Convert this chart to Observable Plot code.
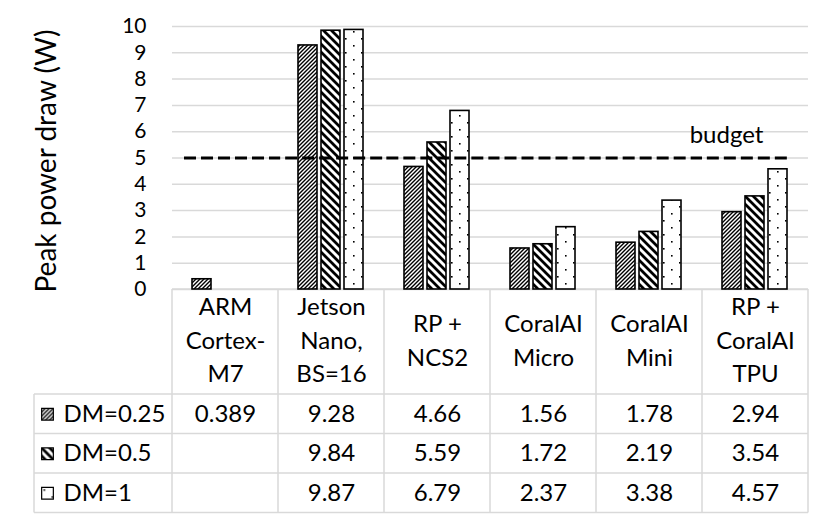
<!DOCTYPE html>
<html><head><meta charset="utf-8">
<script src="https://cdn.jsdelivr.net/npm/d3@7"></script>
<script src="https://cdn.jsdelivr.net/npm/@observablehq/plot@0.6"></script>
<style>body{margin:0;background:#fff}</style>
</head><body><div id="chart"></div>
<script>
const categories = ["ARM\nCortex-\nM7", "Jetson\nNano,\nBS=16", "RP +\nNCS2", "CoralAI\nMicro", "CoralAI\nMini", "RP +\nCoralAI\nTPU"];
const seriesNames = ["DM=0.25", "DM=0.5", "DM=1"];
const dm025 = [0.389, 9.28, 4.66, 1.56, 1.78, 2.94];
const dm05 = [null, 9.84, 5.59, 1.72, 2.19, 3.54];
const dm1 = [null, 9.87, 6.79, 2.37, 3.38, 4.57];
const yTicks = [0, 1, 2, 3, 4, 5, 6, 7, 8, 9, 10];
const budget = 5;
const budgetLabel = "budget";
const yLabel = "Peak power draw (W)";

const seriesValues = [dm025, dm05, dm1];
const patternIds = ["pat-dm025", "pat-dm05", "pat-dm1"];
const rows = categories.flatMap((c, i) => seriesNames.map((s, j) => ({category: c, series: s, value: seriesValues[j][i]})));
const present = rows.filter(d => d.value != null);

// layout (pixels)
const W = 830, H = 523, mL = 169, mR = 20, mT = 26, mB = 234;
const headerH = 105, rowH = 39.5, labelColW = 138;
const rowDy = seriesNames.map((s, j) => headerH + rowH * j + rowH / 2);
const facetW = (W - mL - mR) / categories.length;
const dashPeriod = 17, budgetStart = 12, budgetEndInset = 20;

const budgetRules = categories.map((c, k) => Plot.ruleY([budget], {
  fx: () => c, stroke: "black", strokeWidth: 3, strokeDasharray: "12,5",
  strokeDashoffset: k === 0 ? 0 : ((k * facetW - budgetStart) % dashPeriod),
  insetLeft: k === 0 ? budgetStart : 0,
  insetRight: k === categories.length - 1 ? budgetEndInset : 0
}));

const marks = [
  Plot.gridY(yTicks, {stroke: "#d9d9d9", strokeOpacity: 1, strokeWidth: 1.5}),
  Plot.axisY(yTicks, {tickSize: 0, tickPadding: 26, fontSize: 21, label: null}),
  ...seriesNames.map((s, j) => Plot.barY(present.filter(d => d.series === s), {
    fx: "category", x: "series", y: "value",
    fill: `url(#${patternIds[j]})`, stroke: "black", strokeWidth: 1.6
  })),
  ...budgetRules,
  Plot.text([budgetLabel], {fx: () => categories[categories.length - 1], y: () => budget, text: d => d, dx: -29, dy: -23, lineAnchor: "middle", fontSize: 24}),
  Plot.text([yLabel], {fx: () => categories[0], text: d => d, frameAnchor: "left", textAnchor: "middle", lineAnchor: "middle", rotate: -90, dx: -125, dy: 3, fontSize: 28}),
  Plot.text(categories, {fx: d => d, text: d => d, frameAnchor: "bottom", dy: headerH / 2 - 4, lineAnchor: "middle", lineHeight: 1.4, fontSize: 24}),
  ...seriesNames.map((s, j) => Plot.text(present.filter(d => d.series === s), {
    fx: "category", text: d => String(d.value), frameAnchor: "bottom", dy: rowDy[j], lineAnchor: "middle", fontSize: 24
  })),
  ...seriesNames.map((s, j) => Plot.text([s], {
    fx: () => categories[0], text: d => d, frameAnchor: "bottom-left", textAnchor: "start", lineAnchor: "middle",
    dx: -109, dy: rowDy[j], fontSize: 24
  })),
  ...seriesNames.map((s, j) => Plot.dot([s], {
    fx: () => categories[0], frameAnchor: "bottom-left", dx: -125, dy: rowDy[j],
    symbol: "square", r: 6.6, fill: `url(#${patternIds[j]})`, stroke: "black", strokeWidth: 1.2
  }))
];

const plot = Plot.plot({
  width: W, height: H,
  marginTop: mT, marginBottom: mB, marginLeft: mL, marginRight: mR,
  style: {fontFamily: "Lato", fontSize: "24px", background: "white", color: "black", overflow: "visible"},
  fx: {domain: categories, padding: 0, axis: null},
  x: {domain: seriesNames, paddingInner: 0.17, paddingOuter: 0.86, axis: null},
  y: {domain: [0, 10]},
  marks
});

const svg = d3.select(plot);
svg.insert("defs", ":first-child").html(`
  <pattern id="pat-dm025" patternUnits="userSpaceOnUse" width="4" height="4">
    <rect width="4" height="4" fill="white"/>
    <path d="M-1,1 l2,-2 M0,4 l4,-4 M3,5 l2,-2" stroke="black" stroke-width="1.4"/>
  </pattern>
  <pattern id="pat-dm05" patternUnits="userSpaceOnUse" width="8" height="8">
    <rect width="8" height="8" fill="white"/>
    <path d="M-2,6 l4,4 M0,0 l8,8 M6,-2 l4,4" stroke="black" stroke-width="2.8"/>
  </pattern>
  <pattern id="pat-dm1" patternUnits="userSpaceOnUse" width="16" height="14">
    <rect width="16" height="14" fill="white"/>
    <rect x="4" y="3" width="1.6" height="1.6" fill="black"/>
    <rect x="12" y="10" width="1.6" height="1.6" fill="black"/>
  </pattern>`);

// data-table grid, positioned from Plot's own scales
const fxs = plot.scale("fx"), ys = plot.scale("y");
const bw = fxs.bandwidth;
const edges = categories.map(c => fxs.apply(c)).concat([fxs.apply(categories[categories.length - 1]) + bw]);
const y0 = ys.apply(0);
const xL = edges[0] - labelColW, xR = edges[edges.length - 1];
const yHeader = y0 + headerH;
const yBottom = yHeader + rowH * seriesNames.length;
const grid = svg.insert("g", "g").attr("stroke", "#d9d9d9").attr("stroke-width", 1.5).attr("fill", "none");
grid.append("line").attr("x1", edges[0]).attr("x2", xR).attr("y1", y0).attr("y2", y0);
for (let k = 0; k <= seriesNames.length; k++) {
  const yy = yHeader + rowH * k;
  grid.append("line").attr("x1", xL).attr("x2", xR).attr("y1", yy).attr("y2", yy);
}
edges.forEach(x => grid.append("line").attr("x1", x).attr("x2", x).attr("y1", y0).attr("y2", yBottom));
grid.append("line").attr("x1", xL).attr("x2", xL).attr("y1", yHeader).attr("y2", yBottom);

document.getElementById("chart").append(plot);
</script>
</body></html>
